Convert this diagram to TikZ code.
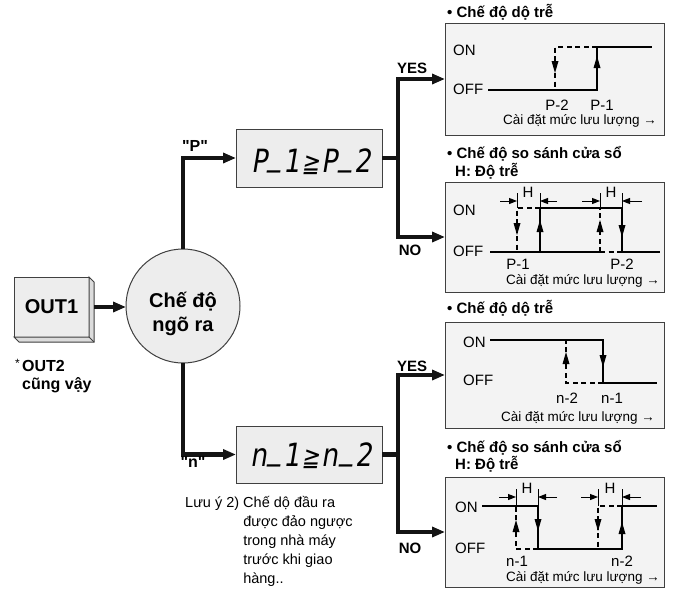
\documentclass[tikz,border=0pt]{standalone}
\usepackage{fontspec}
\usepackage{graphicx}
\setmainfont{Liberation Sans}
\newfontfamily\segfont{DejaVu Sans}[FakeSlant=0.2]
\usetikzlibrary{arrows.meta}
\definecolor{panelfill}{HTML}{F3F3F3}
\definecolor{boxfill}{HTML}{EDEDED}
\definecolor{bevelfill}{HTML}{DCDCDC}
\definecolor{edgecol}{HTML}{404040}
\newcommand{\fsz}[2]{\fontsize{#1}{#2}\selectfont}
\newcommand{\segbar}{\kern2pt\raisebox{7pt}{\_}\kern2pt}
\newcommand{\seggeq}{\kern2pt{\fontsize{26}{30}\selectfont ≧}\kern3pt}
\tikzset{
  flowline/.style={line width=4.5pt, draw=black!92},
  flow/.style={flowline, -{Triangle[length=13pt,width=10pt]}},
  panel/.style={draw=edgecol, line width=1pt, fill=panelfill, minimum width=219pt, inner sep=0pt, outer sep=0pt, anchor=north west},
  greybox/.style={draw=edgecol, line width=1pt, fill=boxfill, inner sep=0pt, outer sep=0pt},
  sig/.style={line width=2.2pt},
  sigdash/.style={line width=2.2pt, dash pattern=on 5pt off 3.5pt},
  dimarr/.style={line width=1pt, -{Triangle[length=8pt,width=6pt]}},
  hticks/.style={line width=1pt},
  txt/.style={inner sep=0pt, anchor=base west, font=\fsz{15}{18}},
  lbl/.style={inner sep=0pt, anchor=base, font=\fsz{15}{18}},
  axlbl/.style={inner sep=0pt, anchor=base east, font=\fsz{13.5}{16}},
  ttl/.style={inner sep=0pt, anchor=base west, font=\bfseries\fsz{15}{18}},
  yn/.style={inner sep=0pt, anchor=base, font=\bfseries\fsz{15}{18}},
  tipdown/.pic={\fill (-3.5,-12) -- (3.5,-12) -- (0,0) -- cycle;},
  tipup/.pic={\fill (-3.5,12) -- (3.5,12) -- (0,0) -- cycle;},
}
\begin{document}
\begin{tikzpicture}[x=1pt,y=-1pt]
\fill[white] (0,0) rectangle (676,589);
\useasboundingbox (0,0) rectangle (676,589);

% ---------- panels ----------
\node[panel, minimum height=112pt] (b1) at (445,23) {};
\node[panel, minimum height=110pt] (b2) at (445,182) {};
\node[panel, minimum height=106pt] (b3) at (445,322) {};
\node[panel, minimum height=110pt] (b4) at (445,477) {};

\node[ttl] (t1) at (447,17) {• Chế độ dộ trễ};
\node[ttl] (t2) at (447,158.5) {• Chế độ so sánh cửa sổ};
\node[ttl] (t2h) at (455,176.5) {H: Độ trễ};
\node[ttl] (t3) at (447,313.5) {• Chế độ dộ trễ};
\node[ttl] (t4) at (447,452.5) {• Chế độ so sánh cửa sổ};
\node[ttl] (t4h) at (455,469.5) {H: Độ trễ};

% panel 1
\node[txt] (on1) at (453,55) {ON};
\node[txt] (off1) at (453,94.5) {OFF};
\draw[sig] (488,90) -- (597,90) -- (597,47) -- (652,47);
\draw[sigdash] (597,47) -- (555,47) -- (555,90);
\pic at (555,73) {tipdown};
\pic at (597,56) {tipup};
\node[lbl] (p2a) at (557,110) {P-2};
\node[lbl] (p1a) at (602,110) {P-1};
\node[axlbl] (ax1) at (657,124) {Cài đặt mức lưu lượng →};

% panel 2
\node[txt] (on2) at (453,215.5) {ON};
\node[txt] (off2) at (453,256.5) {OFF};
\draw[sig] (490,252) -- (600,252);
\draw[sigdash] (600,252) -- (622,252);
\draw[sig] (540,252) -- (540,208) -- (622,208) -- (622,252) -- (660,252);
\draw[sigdash] (540,208) -- (517,208) -- (517,252);
\draw[sigdash] (600,252) -- (600,208);
\pic at (517,235) {tipdown};
\pic at (540,220) {tipup};
\pic at (600,220) {tipup};
\pic at (622,237) {tipdown};
\draw[hticks] (517,193) -- (517,208) (540,193) -- (540,208) (600,193) -- (600,208) (622,193) -- (622,208);
\draw[dimarr] (500,201) -- (517,201);
\draw[dimarr] (557,201) -- (540,201);
\draw[dimarr] (582,201) -- (600,201);
\draw[dimarr] (642,201) -- (622,201);
\node[lbl] (h2a) at (528,197.5) {H};
\node[lbl] (h2b) at (611,197.5) {H};
\node[lbl] (p1b) at (518,269) {P-1};
\node[lbl] (p2b) at (622,269) {P-2};
\node[axlbl] (ax2) at (660,284) {Cài đặt mức lưu lượng →};

% panel 3
\node[txt] (on3) at (463,347.5) {ON};
\node[txt] (off3) at (463,385.5) {OFF};
\draw[sig] (490,340) -- (603,340) -- (603,383) -- (657,383);
\draw[sigdash] (603,383) -- (566,383) -- (566,340);
\pic at (566,352) {tipup};
\pic at (603,367) {tipdown};
\node[lbl] (n2a) at (567,403.5) {n-2};
\node[lbl] (n1a) at (612,403.5) {n-1};
\node[axlbl] (ax3) at (655,421) {Cài đặt mức lưu lượng →};

% panel 4
\node[txt] (on4) at (455,512.5) {ON};
\node[txt] (off4) at (455,553.5) {OFF};
\draw[sig] (482,506) -- (538,506) -- (538,549) -- (622,549) -- (622,506) -- (657,506);
\draw[sigdash] (538,549) -- (516,549) -- (516,506);
\draw[sigdash] (622,506) -- (598,506) -- (598,549);
\pic at (516,520) {tipup};
\pic at (538,531) {tipdown};
\pic at (598,531) {tipdown};
\pic at (622,522) {tipup};
\draw[hticks] (516,489) -- (516,506) (538,489) -- (538,506) (598,489) -- (598,506) (622,489) -- (622,506);
\draw[dimarr] (499,497) -- (516,497);
\draw[dimarr] (557,497) -- (538,497);
\draw[dimarr] (581,497) -- (598,497);
\draw[dimarr] (641,497) -- (622,497);
\node[lbl] (h4a) at (527,493.5) {H};
\node[lbl] (h4b) at (610,493.5) {H};
\node[lbl] (n1b) at (517,566) {n-1};
\node[lbl] (n2b) at (622,566) {n-2};
\node[axlbl] (ax4) at (660,581) {Cài đặt mức lưu lượng →};

% ---------- left part ----------
\node[greybox, minimum width=75pt, minimum height=60pt, font=\bfseries\fsz{20}{24}] (out1) at (51.5,307) {OUT1};
\draw[edgecol, line width=1pt, fill=bevelfill] (out1.north east) -- ++(5,5) -- ++(0,60) -- ++(-75,0) -- ++(-5,-5) -- (out1.south east) -- cycle;
\draw[edgecol, line width=1pt] (out1.south east) -- ++(5,5);

\node[inner sep=0pt, anchor=base east, font=\fsz{12}{13}] (star) at (20,367) {*};
\node[inner sep=0pt, anchor=base west, font=\bfseries\fsz{16}{18}] (out2) at (22,371) {\begin{tabular}[t]{@{}l@{}}OUT2\\cũng vậy\end{tabular}};

\node[greybox, circle, minimum size=114pt] (circ) at (183,306) {};
\node[inner sep=0pt, anchor=base, font=\bfseries\fsz{20}{24}] (circtxt) at (183,307) {\begin{tabular}[t]{@{}c@{}}Chế độ\\ngõ ra\end{tabular}};

\draw[flow] ([xshift=5pt]out1.east) -- (out1.east -| circ.west);

\node[greybox, minimum width=146pt, minimum height=58pt] (pbox) at (309,158) {};
\node[inner sep=0pt, anchor=base] (ptxt) at (311,172) {\segfont\fsz{32}{38}\scalebox{0.82}[1]{P\segbar1\seggeq P\segbar2}};
\node[greybox, minimum width=146pt, minimum height=57pt] (nbox) at (309,454.5) {};
\node[inner sep=0pt, anchor=base] (ntxt) at (311,466) {\segfont\fsz{32}{38}\scalebox{0.82}[1]{n\segbar1\seggeq n\segbar2}};

\draw[flow] (circ.north) |- (pbox.west);
\draw[flow] (circ.south) |- (nbox.west);
\node[yn, font=\bfseries\fsz{16}{18}] (plbl) at (195,151) {\textquotedbl P\textquotedbl};
\node[yn, font=\bfseries\fsz{16}{18}] (nlbl) at (193,467) {\textquotedbl n\textquotedbl};

\coordinate (pbus) at (398,158);
\coordinate (nbus) at (398,454.5);
\draw[flowline] (pbox.east) -- (pbus);
\draw[flow] (pbus) |- (b1.west);
\draw[flow] (pbus) |- (b2.west);
\draw[flowline] (nbox.east) -- (nbus);
\draw[flow] (nbus) |- (b3.west);
\draw[flow] (nbus) |- (b4.west);

\node[yn] (yes1) at (412,73.5) {YES};
\node[yn] (no1) at (410,255.5) {NO};
\node[yn] (yes2) at (412,371) {YES};
\node[yn] (no2) at (410,553.5) {NO};

\node[inner sep=0pt, anchor=base west, font=\fsz{14.5}{19}] (note) at (185,507) {\begin{tabular}[t]{@{}l@{\ }l@{}}Lưu ý 2) & Chế dộ đầu ra\\ & được đảo ngược\\ & trong nhà máy\\ & trước khi giao\\ & hàng..\end{tabular}};
\end{tikzpicture}
\end{document}
